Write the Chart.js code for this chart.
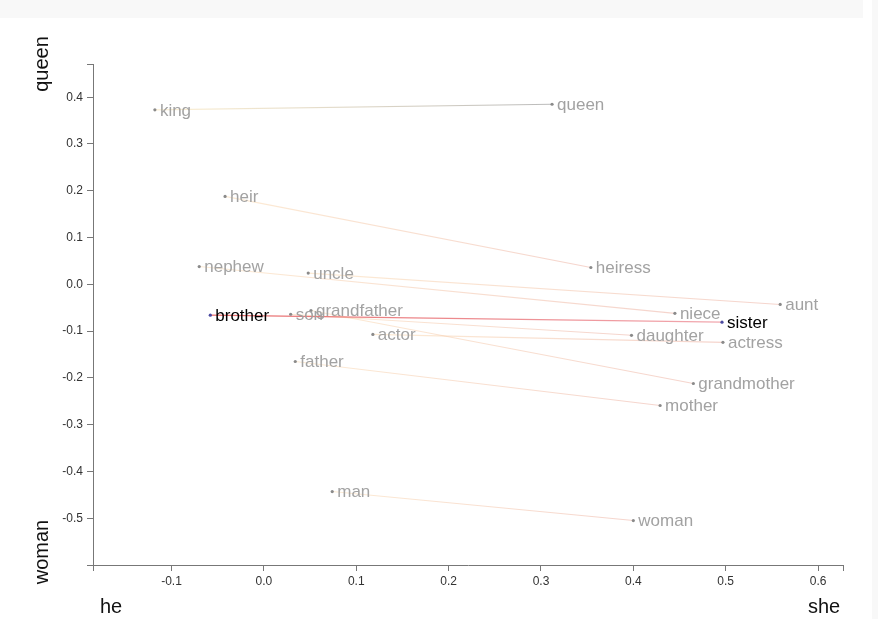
<!DOCTYPE html>
<html>
<head>
<meta charset="utf-8">
<script src="https://cdn.jsdelivr.net/npm/chart.js@4.4.1/dist/chart.umd.min.js"></script>
<style>
  html, body { margin: 0; padding: 0; background: #ffffff; }
  #wrap { width: 878px; height: 619px; position: relative; }
  canvas { display: block; }
</style>
</head>
<body>
<div id="wrap"><canvas id="c" width="878" height="619"></canvas></div>
<script>
// ---- data ----
const maleWords   = ['king', 'heir', 'nephew', 'uncle', 'brother', 'son', 'grandfather', 'actor', 'father', 'man'];
const maleX       = [-0.118, -0.042, -0.070, 0.048, -0.058, 0.029, 0.051, 0.118, 0.034, 0.074];
const maleY       = [0.373, 0.188, 0.038, 0.024, -0.066, -0.064, -0.056, -0.107, -0.165, -0.443];
const femaleWords = ['queen', 'heiress', 'niece', 'aunt', 'sister', 'daughter', 'grandmother', 'actress', 'mother', 'woman'];
const femaleX     = [0.312, 0.354, 0.445, 0.559, 0.496, 0.398, 0.465, 0.497, 0.429, 0.400];
const femaleY     = [0.385, 0.036, -0.062, -0.043, -0.081, -0.109, -0.212, -0.124, -0.259, -0.505];
const highlightWords = ['brother', 'sister'];

const xTickValues = [-0.1, 0.0, 0.1, 0.2, 0.3, 0.4, 0.5, 0.6];
const xTickLabels = ['-0.1', '0.0', '0.1', '0.2', '0.3', '0.4', '0.5', '0.6'];
const yTickValues = [0.4, 0.3, 0.2, 0.1, 0.0, -0.1, -0.2, -0.3, -0.4, -0.5];
const yTickLabels = ['0.4', '0.3', '0.2', '0.1', '0.0', '-0.1', '-0.2', '-0.3', '-0.4', '-0.5'];
const xMin = -0.185, xMax = 0.627, yMin = -0.6, yMax = 0.471;

// ---- build datasets ----
const allWords = maleWords.concat(femaleWords);
const allPoints = maleX.map((x, i) => ({x: x, y: maleY[i]}))
  .concat(femaleX.map((x, i) => ({x: x, y: femaleY[i]})));

function pairGradient(i) {
  return function(ctx) {
    const chart = ctx.chart;
    const sx = chart.scales.x, sy = chart.scales.y;
    if (!sx || !sy || !chart.chartArea) return 'rgba(240,180,150,0.45)';
    const x0 = sx.getPixelForValue(maleX[i]), y0 = sy.getPixelForValue(maleY[i]);
    const x1 = sx.getPixelForValue(femaleX[i]), y1 = sy.getPixelForValue(femaleY[i]);
    if (!isFinite(x0) || !isFinite(x1)) return 'rgba(240,180,150,0.45)';
    const g = chart.ctx.createLinearGradient(x0, y0, x1, y1);
    const hl = highlightWords.indexOf(maleWords[i]) >= 0;
    if (hl) {
      g.addColorStop(0, 'rgba(225,60,60,0.75)');
      g.addColorStop(1, 'rgba(235,130,140,0.7)');
    } else if (maleWords[i] === 'king') {
      g.addColorStop(0, 'rgba(250,225,170,0.5)');
      g.addColorStop(1, 'rgba(150,150,150,0.65)');
    } else {
      g.addColorStop(0, 'rgba(250,215,170,0.5)');
      g.addColorStop(1, 'rgba(235,170,155,0.5)');
    }
    return g;
  };
}

const lineDatasets = maleWords.map((w, i) => ({
  type: 'line',
  label: w + '-' + femaleWords[i],
  data: [{x: maleX[i], y: maleY[i]}, {x: femaleX[i], y: femaleY[i]}],
  borderColor: pairGradient(i),
  borderWidth: highlightWords.indexOf(w) >= 0 ? 1.3 : 1.1,
  pointRadius: 0,
  fill: false,
  tension: 0,
  order: 2
}));

const pointDataset = {
  type: 'scatter',
  label: 'words',
  data: allPoints,
  pointRadius: 1.6,
  pointBorderWidth: 0,
  pointBackgroundColor: allWords.map(w => highlightWords.indexOf(w) >= 0 ? '#4a4aa0' : '#8a8a8a'),
  order: 1
};

// ---- plugins ----
const bgPlugin = {
  id: 'bg',
  beforeDraw(chart) {
    const c = chart.ctx;
    c.save();
    c.fillStyle = '#ffffff';
    c.fillRect(0, 0, chart.width, chart.height);
    c.fillStyle = '#f8f8f8';
    c.fillRect(0, 0, 863, 18);
    c.fillRect(872, 0, 6, chart.height);
    c.restore();
  }
};

const labelPlugin = {
  id: 'wordLabels',
  afterDatasetsDraw(chart) {
    const idx = chart.data.datasets.indexOf(pointDataset);
    const meta = chart.getDatasetMeta(idx);
    const c = chart.ctx;
    c.save();
    c.font = '17px "Liberation Sans", Arial, sans-serif';
    c.textBaseline = 'middle';
    c.textAlign = 'left';
    meta.data.forEach((pt, i) => {
      const w = allWords[i];
      c.fillStyle = highlightWords.indexOf(w) >= 0 ? '#000000' : '#a2a2a2';
      c.fillText(w, pt.x + 5, pt.y + 1);
    });
    c.restore();
  }
};

const titlePlugin = {
  id: 'axisTitles',
  afterDraw(chart) {
    const c = chart.ctx;
    c.save();
    c.font = '20px "Liberation Sans", Arial, sans-serif';
    c.fillStyle = '#111111';
    c.textBaseline = 'alphabetic';
    c.textAlign = 'left';
    c.fillText('he', 100, 613);
    c.fillText('she', 808, 613);
    c.textAlign = 'center';
    c.textBaseline = 'middle';
    c.translate(42, 64);
    c.rotate(-Math.PI / 2);
    c.fillText('queen', 0, 0);
    c.restore();
    c.save();
    c.font = '20px "Liberation Sans", Arial, sans-serif';
    c.fillStyle = '#111111';
    c.textAlign = 'center';
    c.textBaseline = 'middle';
    c.translate(42, 552);
    c.rotate(-Math.PI / 2);
    c.fillText('woman', 0, 0);
    c.restore();
  }
};

function labelFor(values, labels) {
  return function(v) {
    for (let i = 0; i < values.length; i++) {
      if (Math.abs(values[i] - v) < 1e-9) return labels[i];
    }
    return '';
  };
}

const xLabel = labelFor(xTickValues, xTickLabels);
const yLabel = labelFor(yTickValues, yTickLabels);

new Chart(document.getElementById('c'), {
  data: { datasets: lineDatasets.concat([pointDataset]) },
  options: {
    responsive: false,
    animation: false,
    events: [],
    layout: { padding: { top: 64, right: 35, left: 0, bottom: 0 } },
    plugins: { legend: { display: false }, tooltip: { enabled: false } },
    scales: {
      x: {
        type: 'linear',
        min: xMin, max: xMax,
        afterBuildTicks(scale) {
          scale.ticks = [xMin].concat(xTickValues, [xMax]).map(v => ({value: v}));
        },
        afterFit(scale) { scale.height = 54; },
        ticks: {
          autoSkip: false, maxRotation: 0, padding: 3,
          color: '#333', font: { size: 12, family: '"Liberation Sans", Arial, sans-serif' },
          callback: (v) => xLabel(v)
        },
        grid: { display: true, drawOnChartArea: false, drawTicks: true, tickLength: 6, color: '#777', lineWidth: 1 },
        border: { display: true, color: '#777', width: 1 }
      },
      y: {
        type: 'linear',
        min: yMin, max: yMax,
        afterBuildTicks(scale) {
          scale.ticks = [yMin].concat(yTickValues.slice().reverse(), [yMax]).map(v => ({value: v}));
        },
        afterFit(scale) { scale.width = 93; },
        ticks: {
          autoSkip: false, padding: 4,
          color: '#333', font: { size: 12, family: '"Liberation Sans", Arial, sans-serif' },
          callback: (v) => yLabel(v)
        },
        grid: { display: true, drawOnChartArea: false, drawTicks: true, tickLength: 6, color: '#777', lineWidth: 1 },
        border: { display: true, color: '#777', width: 1 }
      }
    }
  },
  plugins: [bgPlugin, labelPlugin, titlePlugin]
});
</script>
</body>
</html>
